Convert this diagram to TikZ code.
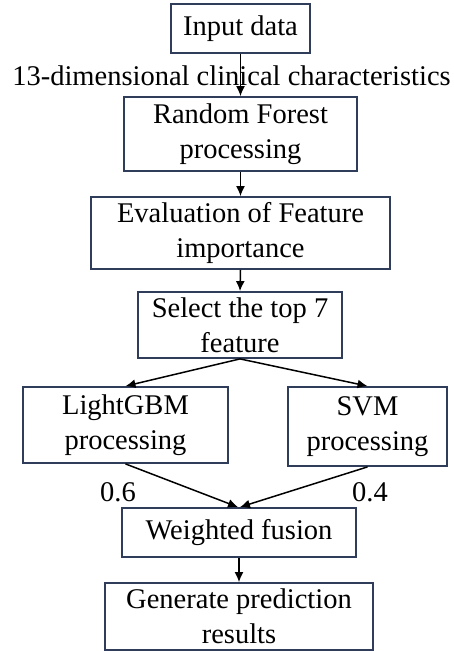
\documentclass[tikz,border=0pt]{standalone}
\usepackage{fontspec}
\setmainfont{Liberation Serif}
\usetikzlibrary{arrows.meta}
\definecolor{boxline}{HTML}{2F3D5A}
\begin{document}
\begin{tikzpicture}[x=1pt,y=-1pt,
  box/.style={draw=boxline,line width=1.8pt,rectangle,inner sep=0pt,align=center,
    font=\fontsize{28.5}{35}\selectfont},
  lbl/.style={font=\fontsize{28.5}{35}\selectfont,inner sep=0pt},
  arr/.style={-{Latex[length=10pt,width=9pt]},line width=1.5pt,black}]
\useasboundingbox (0,0) rectangle (454,651);
\node[box,minimum width=139pt,minimum height=49pt] (in) at (240.5,28.5) {Input data};
\node[box,minimum width=233pt,minimum height=74pt] (rf) at (240.5,134) {Random Forest\\processing};
\node[box,minimum width=299pt,minimum height=72pt] (ev) at (240.5,233) {Evaluation of Feature\\importance};
\node[box,minimum width=204pt,minimum height=66pt] (sel) at (240,325) {Select the top 7\\feature};
\node[box,minimum width=205pt,minimum height=76pt] (lg) at (125.5,425) {LightGBM\\processing};
\node[box,minimum width=159pt,minimum height=79pt] (svm) at (367.5,426.5) {SVM\\processing};
\node[box,minimum width=234pt,minimum height=49pt] (wf) at (239,532.5) {Weighted fusion};
\node[box,minimum width=268pt,minimum height=67pt] (gen) at (239,616.5) {Generate prediction\\results};
\node[lbl] (dim) at (231.5,76) {13-dimensional clinical characteristics};
\node[lbl] (w1) at (118,492) {0.6};
\node[lbl] (w2) at (370,492) {0.4};
\draw[arr] (in.south) -- (rf.north);
\draw[arr] (rf.south) -- (ev.north);
\draw[arr] (ev.south) -- (sel.north);
\draw[arr] (sel.south) -- (lg.north);
\draw[arr] (sel.south) -- (svm.north);
\draw[arr] (lg.south) -- ([xshift=-1pt]wf.north);
\draw[arr] (svm.south) -- ([xshift=1pt]wf.north);
\draw[arr] (wf.south) -- (gen.north);
\end{tikzpicture}
\end{document}
